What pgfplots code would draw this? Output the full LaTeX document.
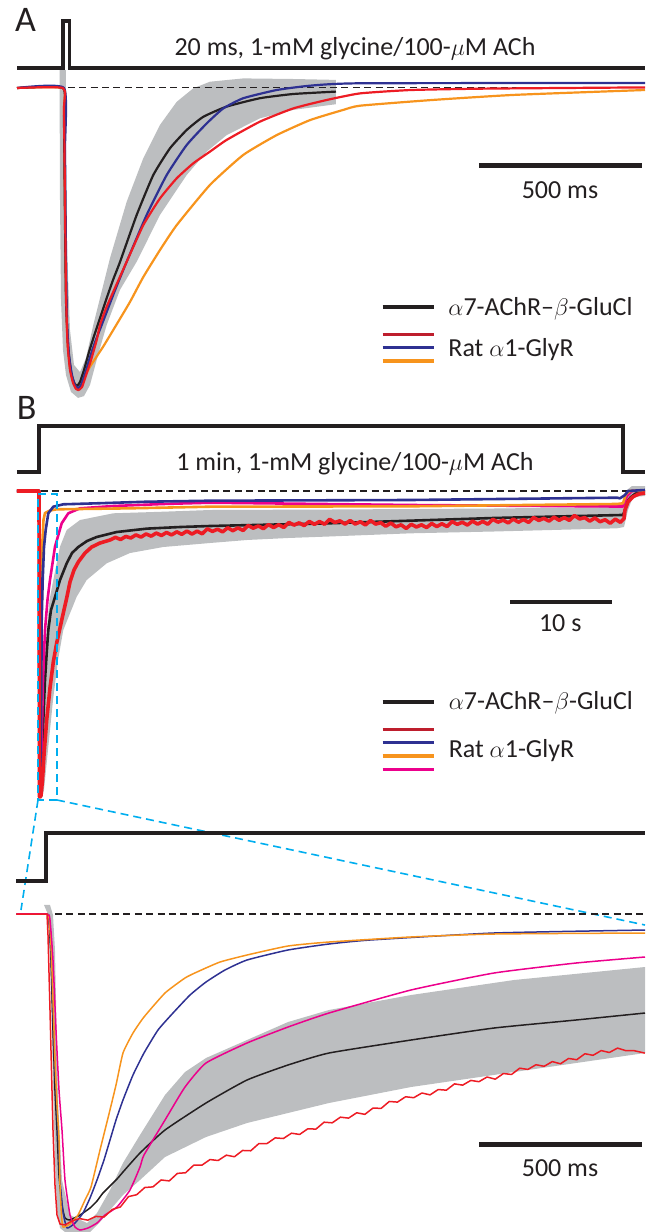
\documentclass[border=0pt]{standalone}
\usepackage{fontspec}
\setmainfont{Carlito}
\usepackage{pgfplots}
\pgfplotsset{compat=1.18}

\definecolor{ink}{RGB}{35,31,32}
\definecolor{band}{RGB}{188,190,192}
\definecolor{tred}{RGB}{237,28,36}
\definecolor{lred}{RGB}{190,30,45}
\definecolor{tblue}{RGB}{46,49,146}
\definecolor{torange}{RGB}{247,148,29}
\definecolor{tmag}{RGB}{236,0,140}
\definecolor{zoomc}{RGB}{0,174,239}

\pgfplotsset{panel/.style={hide axis, scale only axis, width=322.5pt, clip=false, anchor=north west}}
\tikzset{
  txt/.style={font=\fontsize{13}{15}\selectfont, text=ink, inner sep=0pt},
  panlab/.style={font=\fontsize{18}{21}\selectfont, text=ink, inner sep=0pt},
  stim/.style={ink, line width=1.6pt},
  sbar/.style={ink, line width=2.2pt},
  base/.style={ink, line width=0.9pt, dash pattern=on 3.5pt off 2.2pt},
  zbox/.style={zoomc, line width=0.8pt, dash pattern=on 4pt off 2.5pt},
  tr/.style={line width=1.1pt, line join=round},
  trc/.style={line width=0.75pt, line join=round},
}

\begin{document}
\begin{tikzpicture}
\useasboundingbox (0,0) rectangle (322.5pt,-616pt);

% ---------------- A: 20 ms pulse ----------------
\begin{axis}[panel, at={(0pt,0pt)}, height=200pt,
  xmin=-193.25, xmax=1785.28, ymin=-1.04, ymax=0.29333]
\addplot[fill=band, draw=none] coordinates {
 (-10.7,0.06) (-9.2,-0.373) (-6.1,-0.707) (0,-0.873) (9.2,-0.957) (24.5,-1.013) (46,-1.033)
 (64.4,-1.027) (82.8,-0.99) (107.4,-0.89) (134,-0.79) (174.8,-0.673) (226.1,-0.579)
 (297.5,-0.423) (379.4,-0.29) (440.8,-0.212) (502.1,-0.157) (604.3,-0.101) (706.4,-0.073)
 (837.4,-0.054) (837.4,0.027) (706.4,0.03) (553.1,0.032) (450.9,0.021) (399.7,-0.001)
 (348.8,-0.046) (297.5,-0.123) (246.3,-0.234) (195.4,-0.379) (144.2,-0.567) (92.9,-0.79)
 (70.6,-0.9) (52.1,-0.947) (33.7,-0.923) (21.5,-0.807) (12.3,-0.54) (9.2,-0.207) (9.2,0.06)} -- cycle;
\addplot[stim] coordinates {(-141.1,0.0667) (0,0.0667) (0,0.2233) (20,0.2233) (20,0.0667) (1785.28,0.0667)};
\addplot[base] coordinates {(15,0.0017) (1785.28,0.0017)};
\addplot[tr, torange, smooth, tension=0.3] coordinates {
 (-141.1,0) (0,0) (3.1,-0.07) (6.1,-0.37) (9.2,-0.67) (12.3,-0.8) (15.3,-0.87) (21.5,-0.935)
 (30.7,-0.975) (39.9,-0.99) (46,-0.993) (60,-0.975) (82.8,-0.929) (122.7,-0.863) (159.5,-0.797)
 (205.5,-0.713) (246.3,-0.63) (297.5,-0.54) (348.8,-0.457) (450.9,-0.323) (553.1,-0.223)
 (655.5,-0.157) (757.7,-0.107) (859.8,-0.073) (911,-0.059) (1131.9,-0.04) (1383.4,-0.023) (1785.3,-0.0067)};
\addplot[tr, ink, smooth, tension=0.3] coordinates {
 (-141.1,0) (0,0) (3.1,-0.107) (6.1,-0.44) (9.2,-0.707) (15.3,-0.857) (24.5,-0.947) (33.7,-0.983)
 (42.9,-0.993) (52.1,-0.98) (64.4,-0.94) (79.8,-0.88) (95.1,-0.827) (113.5,-0.767) (131.9,-0.707)
 (153.4,-0.64) (174.8,-0.58) (226.1,-0.423) (277,-0.29) (328.2,-0.201) (379.4,-0.14) (430.4,-0.096)
 (502.1,-0.062) (604.3,-0.034) (706.4,-0.02) (837.4,-0.012)};
\addplot[tr, tblue, smooth, tension=0.3] coordinates {
 (-141.1,0) (3.1,0) (6.1,-0.207) (9.2,-0.54) (12.3,-0.773) (18.4,-0.89) (27.6,-0.957) (36.8,-0.99)
 (46,-1.0) (55.2,-0.99) (67.5,-0.953) (82.8,-0.897) (98.2,-0.847) (118.7,-0.79) (160,-0.673)
 (195.4,-0.579) (256.7,-0.423) (318.1,-0.29) (379.4,-0.19) (440.8,-0.118) (491.7,-0.068)
 (553.1,-0.034) (655.5,-0.0067) (757.7,0.0077) (911,0.0157) (1785.3,0.0167)};
\addplot[tr, tred, smooth, tension=0.3] coordinates {
 (-141.1,0) (0,0) (3.1,-0.073) (6.1,-0.373) (9.2,-0.673) (12.3,-0.807) (15.3,-0.873) (21.5,-0.94)
 (30.7,-0.983) (39.9,-1.003) (47,-1.007) (58.3,-0.997) (72.7,-0.951) (85.9,-0.907) (103.4,-0.84)
 (113.5,-0.79) (134,-0.729) (195.4,-0.579) (246.3,-0.457) (297.5,-0.368) (348.8,-0.301)
 (399.7,-0.251) (450.9,-0.212) (502.1,-0.173) (604.3,-0.112) (706.4,-0.068) (808.6,-0.04)
 (910.8,-0.018) (1067.5,-0.0067) (1300,-0.002) (1785.3,0.002)};
% scale bar and key
\addplot[sbar] coordinates {(1276,-0.2583) (1776,-0.2583)};
\addplot[ink, line width=2pt] coordinates {(980.4,-0.73) (1138,-0.73)};
\addplot[lred, line width=1.7pt] coordinates {(980.4,-0.821) (1138,-0.821)};
\addplot[tblue, line width=1.7pt] coordinates {(980.4,-0.8657) (1138,-0.8657)};
\addplot[torange, line width=1.7pt] coordinates {(980.4,-0.91) (1138,-0.91)};
\node[panlab, anchor=base] at (axis cs:-115,0.1877) {A};
\node[txt, anchor=base] at (axis cs:895.7,0.11) {20 ms, 1-mM glycine/100-$\mu$M ACh};
\node[txt, anchor=base] at (axis cs:1524.5,-0.3677) {500 ms};
\node[txt, anchor=base west] at (axis cs:1181,-0.7567) {$\alpha$7-AChR--$\beta$-GluCl};
\node[txt, anchor=base west] at (axis cs:1181,-0.8957) {Rat $\alpha$1-GlyR};
\end{axis}

% ---------------- B: 1 min application ----------------
\begin{axis}[panel, at={(0pt,-200pt)}, height=210pt,
  xmin=-3.8235, xmax=59.4118, ymin=-1.07166, ymax=0.29642]
\addplot[fill=band, draw=none] coordinates {
 (0.098,-0.9902) (0.196,-0.8111) (0.392,-0.6482) (0.686,-0.4853) (1.029,-0.355) (1.402,-0.2899)
 (2.059,-0.1814) (2.716,-0.127) (4.02,-0.0945) (7.284,-0.0726) (12.186,-0.0674) (16.765,-0.0619)
 (28.431,-0.0603) (44.608,-0.057) (56.961,-0.0521) (57.353,-0.0293) (57.647,0.0033) (58.137,0.0163)
 (59.412,0.0163) (59.412,-0.0163) (58.235,-0.0195) (57.745,-0.0619) (57.353,-0.1173) (56.667,-0.1215)
 (44.608,-0.1319) (36.471,-0.1378) (28.431,-0.1482) (24.412,-0.1531) (20.392,-0.1596) (16.765,-0.1694)
 (12.186,-0.1824) (8.922,-0.202) (6.637,-0.2355) (4.676,-0.2899) (3.696,-0.3443) (2.382,-0.4528)
 (1.863,-0.5505) (1.373,-0.6808) (0.882,-0.8436) (0.49,-0.9739) (0.196,-1.0065)} -- cycle;
\addplot[stim] coordinates {(-2.157,0.0619) (0,0.0619) (0,0.2117) (57.255,0.2117) (57.255,0.0619) (59.412,0.0619)};
\addplot[base] coordinates {(0.2,0) (59.412,0)};
\addplot[tr, line width=1.3pt, ink] coordinates {
 (-2.157,0) (0,0) (0.078,-0.9739) (0.196,-0.9577) (0.294,-0.8762) (0.422,-0.7459) (0.588,-0.6156)
 (0.755,-0.5277) (0.912,-0.4528) (1.176,-0.3876) (1.569,-0.3453) (2.059,-0.2899) (2.716,-0.2355)
 (3.235,-0.202) (3.853,-0.1824) (4.706,-0.1629) (5.657,-0.1498) (7.618,-0.1336) (10.559,-0.1226)
 (13.824,-0.1173) (16.765,-0.114) (28.431,-0.1052) (44.608,-0.0879) (57.059,-0.0782) (57.255,-0.0782)
 (57.451,-0.0619) (57.745,-0.03) (58.039,-0.0195) (58.5,-0.008) (59.412,-0.0033)};
\addplot[tr, line width=1.3pt, tmag] coordinates {
 (-2.157,0) (0.049,0) (0.127,-0.9739) (0.245,-0.8436) (0.392,-0.6156) (0.588,-0.4528) (0.833,-0.355)
 (1.078,-0.2899) (1.569,-0.1814) (2.225,-0.1052) (2.873,-0.0726) (4.02,-0.0564) (7.284,-0.0489)
 (12.186,-0.0423) (16.765,-0.0381) (36.471,-0.0456) (56.667,-0.0505) (57.255,-0.0505) (57.647,-0.0163)
 (58.137,0) (59.412,0.0016)};
\addplot[tr, line width=1.3pt, torange] coordinates {
 (-2.157,0) (0.049,0) (0.098,-0.98) (0.127,-0.9577) (0.196,-0.6808) (0.265,-0.355) (0.343,-0.1596)
 (0.441,-0.0945) (0.588,-0.0717) (1.078,-0.0635) (1.735,-0.0596) (8.922,-0.0564) (16.765,-0.0511)
 (36.471,-0.0498) (56.667,-0.0423) (57.255,-0.0401) (57.549,-0.0098) (57.941,0) (59.412,0.0016)};
\addplot[tr, line width=1.3pt, tblue] coordinates {
 (-2.157,0) (0.049,0) (0.147,-0.9577) (0.216,-0.6808) (0.265,-0.4202) (0.363,-0.2899) (0.49,-0.1824)
 (0.657,-0.127) (0.912,-0.0726) (1.402,-0.0511) (2.382,-0.0433) (5.657,-0.0401) (10.559,-0.0349)
 (16.765,-0.0316) (36.471,-0.0293) (56.667,-0.0218) (56.961,-0.0238) (57.451,-0.013) (57.745,0) (59.412,0.0033)};
\addplot[tr, line width=1.8pt, tred] coordinates {
 (-2.157,0) (0,0) (0.049,-0.9967) (0.196,-0.9935) (0.343,-0.9414) (0.49,-0.8599) (0.755,-0.7459)
 (1.078,-0.6417) (1.402,-0.557) (1.735,-0.4951) (2.059,-0.4463) (2.382,-0.3974) (2.716,-0.3485)
 (3.039,-0.2964) (3.431,-0.2573) (3.853,-0.2313) (4.51,-0.202) (5.167,-0.1824) (5.98,-0.1694)
 (6.961,-0.1596) (7.5,-0.151) (8.0,-0.158) (8.5,-0.148) (9,-0.153) (9.5,-0.143) (10,-0.15)
 (10.5,-0.14) (11,-0.147) (11.5,-0.137) (12,-0.145) (12.5,-0.135) (13,-0.143) (13.5,-0.133)
 (14,-0.141) (14.5,-0.1305) (15,-0.1401) (15.5,-0.1308) (16,-0.1394) (16.5,-0.1231) (17,-0.1317)
 (17.5,-0.1244) (18,-0.133) (18.5,-0.1197) (19,-0.1293) (19.5,-0.12) (20,-0.1286) (20.5,-0.1123)
 (21,-0.121) (21.5,-0.1138) (22,-0.1226) (22.5,-0.1094) (23,-0.1191) (23.5,-0.1099) (24,-0.1187)
 (24.5,-0.1024) (25,-0.1111) (25.5,-0.1038) (26,-0.1124) (26.5,-0.0991) (27,-0.1087) (27.5,-0.0994)
 (28,-0.1081) (28.5,-0.0921) (29,-0.1026) (29.5,-0.0971) (30,-0.1076) (30.5,-0.0961) (31,-0.1076)
 (31.5,-0.1001) (32,-0.1106) (32.5,-0.0962) (33,-0.1077) (33.5,-0.1032) (34,-0.1147) (34.5,-0.1042)
 (35,-0.1167) (35.5,-0.1102) (36,-0.1218) (36.5,-0.1083) (37,-0.1172) (37.5,-0.1101) (38,-0.119)
 (38.5,-0.1059) (39,-0.1158) (39.5,-0.1067) (40,-0.1156) (40.5,-0.0995) (41,-0.1086) (41.5,-0.1017)
 (42,-0.1108) (42.5,-0.0979) (43,-0.108) (43.5,-0.099) (44,-0.1081) (44.5,-0.0922) (45,-0.1014)
 (45.5,-0.0947) (46,-0.104) (46.5,-0.0913) (47,-0.1016) (47.5,-0.0929) (48,-0.1022) (48.5,-0.0865)
 (49,-0.0958) (49.5,-0.089) (50,-0.0981) (50.5,-0.0853) (51,-0.0954) (51.5,-0.0866) (52,-0.0957)
 (52.5,-0.0799) (53,-0.0911) (53.5,-0.0866) (54,-0.0981) (54.5,-0.0876) (55,-0.1001) (55.5,-0.0936)
 (56,-0.1051) (56.5,-0.0916) (57,-0.102) (57.35,-0.09) (57.45,-0.0619) (57.75,-0.035) (58.235,-0.0186)
 (58.8,-0.01) (59.412,-0.0065)};
% zoom box and connectors
\addplot[zbox] coordinates {(-0.098,-0.0098) (1.765,-0.0098) (1.765,-1.0065) (-0.098,-1.0065) (-0.098,-0.0098)};
\addplot[zbox] coordinates {(-0.098,-1.0065) (-1.765,-1.3648)};
\addplot[zbox] coordinates {(1.765,-1.0065) (59.412,-1.4137)};
% scale bar and key
\addplot[sbar] coordinates {(46.18,-0.3625) (56.15,-0.3625)};
\addplot[ink, line width=2pt] coordinates {(33.69,-0.6883) (38.73,-0.6883)};
\addplot[lred, line width=1.7pt] coordinates {(33.69,-0.7762) (38.73,-0.7762)};
\addplot[tblue, line width=1.7pt] coordinates {(33.69,-0.8199) (38.73,-0.8199)};
\addplot[torange, line width=1.7pt] coordinates {(33.69,-0.8632) (38.73,-0.8632)};
\addplot[tmag, line width=1.7pt] coordinates {(33.69,-0.9065) (38.73,-0.9065)};
\node[panlab, anchor=base] at (axis cs:-1.206,0.2313) {B};
\node[txt, anchor=base] at (axis cs:30.98,0.0668) {1 min, 1-mM glycine/100-$\mu$M ACh};
\node[txt, anchor=base] at (axis cs:51.1,-0.4583) {10 s};
\node[txt, anchor=base west] at (axis cs:40.14,-0.7111) {$\alpha$7-AChR--$\beta$-GluCl};
\node[txt, anchor=base west] at (axis cs:40.14,-0.8674) {Rat $\alpha$1-GlyR};
\end{axis}

% ---------------- C: first 2 s of B, expanded ----------------
\begin{axis}[panel, at={(0pt,-410pt)}, height=206pt,
  xmin=-144.17, xmax=1834.36, ymin=-1.01274, ymax=0.29936]
\addplot[fill=band, draw=none] coordinates {
 (-9.2,0.0287) (0,0.0064) (6.1,-0.051) (12.3,-0.242) (18.4,-0.5287) (24.5,-0.7834) (30.7,-0.9427)
 (39.9,-1.0) (55.2,-1.0127) (131.9,-1.0127) (162.6,-0.9809) (193.3,-0.9427) (233.1,-0.8949)
 (285.3,-0.8471) (362,-0.7739) (487.7,-0.7102) (613.5,-0.6656) (865,-0.6019) (1116.6,-0.551)
 (1432.5,-0.5032) (1834.4,-0.4427) (1834.4,-0.1688) (1432.5,-0.2102) (1116.6,-0.258) (865,-0.3057)
 (739.3,-0.344) (613.5,-0.4013) (487.7,-0.4586) (423.3,-0.5032) (362,-0.5764) (285.3,-0.7038)
 (233.1,-0.793) (193.3,-0.879) (153.4,-0.9522) (122.7,-0.9841) (70.6,-0.9586) (46,-0.8471)
 (33.7,-0.5924) (27.6,-0.2739) (24.5,-0.1146) (18.4,-0.0032) (9.2,0.0287)} -- cycle;
\addplot[stim] coordinates {(-93.6,0.1051) (-3,0.1051) (-3,0.258) (1834.36,0.258)};
\addplot[base] coordinates {(24.5,0) (1834.36,0)};
\addplot[trc, ink, smooth, tension=0.3] coordinates {
 (-93.6,0) (0,0) (6.1,-0.0191) (12.3,-0.1465) (18.4,-0.3694) (24.5,-0.5605) (30.7,-0.6879)
 (36.8,-0.8312) (46,-0.9268) (55.2,-0.9682) (70.6,-0.9745) (101.2,-0.9586) (131.9,-0.9363)
 (153.4,-0.914) (171.8,-0.8885) (214.7,-0.8439) (233.1,-0.8217) (285.3,-0.7611) (362,-0.6879)
 (487.7,-0.6019) (613.5,-0.5287) (739.3,-0.4809) (865,-0.4427) (1116.6,-0.4013) (1371.2,-0.3631)
 (1622.7,-0.3376) (1834.4,-0.3153)};
\addplot[trc, tblue, smooth, tension=0.3] coordinates {
 (-93.6,0) (0,0) (6.1,-0.0127) (12.3,-0.1146) (18.4,-0.3057) (24.5,-0.4968) (33.7,-0.6879)
 (39.9,-0.8471) (49.1,-0.949) (61.3,-1.0) (85.9,-0.9841) (110.4,-0.9522) (131.9,-0.9045)
 (153.4,-0.8471) (174.8,-0.7834) (193.3,-0.7197) (211.7,-0.656) (233.1,-0.5924) (263.8,-0.5127)
 (297.5,-0.4427) (340.5,-0.3694) (386.5,-0.3153) (438.7,-0.258) (487.7,-0.2166) (546,-0.1783)
 (613.5,-0.1465) (739.3,-0.1146) (865,-0.0955) (990.8,-0.0828) (1371.2,-0.0605) (1834.4,-0.051)};
\addplot[trc, torange, smooth, tension=0.3] coordinates {
 (-93.6,0) (0,0) (6.1,-0.0127) (12.3,-0.0987) (18.4,-0.2739) (24.5,-0.465) (30.7,-0.6083)
 (36.8,-0.7197) (39.9,-0.8631) (44.5,-0.9586) (49.1,-0.9968) (70.6,-0.9873) (95.1,-0.9586)
 (116.6,-0.9108) (135,-0.8694) (162.6,-0.7516) (187.1,-0.6497) (211.7,-0.5446) (233.1,-0.4427)
 (263.8,-0.379) (297.5,-0.328) (362,-0.2516) (423.3,-0.2038) (460.1,-0.1847) (530.7,-0.1529)
 (613.5,-0.1306) (739.3,-0.1019) (865,-0.0892) (1116.6,-0.0732) (1371.2,-0.0637) (1834.4,-0.0605)};
\addplot[trc, tmag, smooth, tension=0.3] coordinates {
 (-93.6,0) (0,0) (9.2,-0.0191) (18.4,-0.1465) (27.6,-0.3694) (36.8,-0.5605) (46,-0.6879)
 (55.2,-0.8471) (70.6,-0.9586) (85.9,-0.9968) (101.2,-1.0064) (125.8,-1.0) (153.4,-0.9841)
 (177.9,-0.9586) (214.7,-0.9331) (254.6,-0.879) (285.3,-0.8057) (297.5,-0.7675) (362,-0.6561)
 (423.3,-0.551) (487.7,-0.4745) (613.5,-0.4108) (739.3,-0.3599) (865,-0.3153) (1116.6,-0.242)
 (1371.2,-0.1879) (1622.7,-0.1561) (1834.4,-0.1369)};
\addplot[trc, tred] coordinates {
 (-93.6,0) (0,0) (3.07,-0.0669) (9.2,-0.3057) (15.3,-0.5605) (18.4,-0.6879) (24.5,-0.8631)
 (30.7,-0.9586) (39.9,-0.9873) (55.2,-0.9904) (70.6,-0.9809) (85.9,-0.9745)
 (100,-0.970) (125,-0.975) (150,-0.963) (175,-0.965) (200,-0.941) (225,-0.933) (250,-0.900)
 (275,-0.894) (300,-0.871) (325,-0.869) (350,-0.847) (375,-0.850) (400,-0.826) (425,-0.824)
 (450,-0.800) (475,-0.800) (500,-0.782) (525,-0.785) (550,-0.768) (575,-0.773) (600,-0.753)
 (625,-0.754) (650,-0.731) (675,-0.731) (700,-0.713) (725,-0.715) (750,-0.698) (775,-0.702)
 (800,-0.684) (825,-0.685) (850,-0.663) (875,-0.665) (900,-0.647) (925,-0.650) (950,-0.633)
 (975,-0.638) (1000,-0.618) (1025,-0.619) (1050,-0.597) (1075,-0.599) (1100,-0.582) (1125,-0.585)
 (1150,-0.570) (1175,-0.576) (1200,-0.559) (1225,-0.561) (1250,-0.541) (1275,-0.545) (1300,-0.530)
 (1325,-0.534) (1350,-0.519) (1375,-0.526) (1400,-0.508) (1425,-0.511) (1450,-0.491) (1475,-0.495)
 (1500,-0.480) (1525,-0.485) (1550,-0.470) (1575,-0.477) (1600,-0.460) (1625,-0.464) (1650,-0.445)
 (1675,-0.450) (1700,-0.435) (1725,-0.441) (1750,-0.427) (1775,-0.435) (1800,-0.435) (1834,-0.443)};
\addplot[sbar] coordinates {(1325.8,-0.7341) (1825.8,-0.7341)};
\node[txt, anchor=base] at (axis cs:1573.6,-0.8344) {500 ms};
\end{axis}
\end{tikzpicture}
\end{document}
